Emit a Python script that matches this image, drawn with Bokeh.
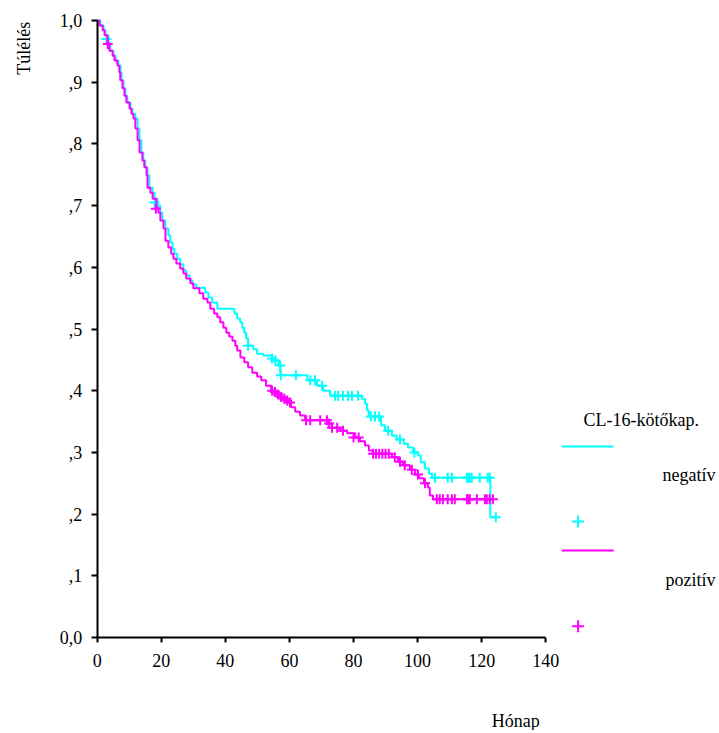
import math
from bokeh.plotting import figure
from bokeh.models import FixedTicker, Label, Range1d
from bokeh.embed import file_html
from bokeh.resources import INLINE

# ---- data ----
neg_t = [0, 1.0, 2.0, 2.6, 3.5, 4.1, 5.1, 5.7, 6.6, 7.3, 7.6, 8.2, 8.8, 9.4, 10.4, 11.0, 11.9, 12.6, 13.2, 13.8,
         14.4, 15.0, 15.7, 16.3, 17.3, 17.9, 18.8, 19.7, 20.3, 21.3, 22.2, 22.8, 23.5, 24.1, 25.0, 25.9, 26.9, 27.8,
         28.8, 29.7, 30.9, 33.7, 34.7, 35.9, 37.5, 42.8, 43.7, 44.6, 45.3, 45.9, 46.5, 47.1, 48.7, 49.9, 51.8, 54.6,
         56.6, 57.2, 65.6, 68.6, 70.5, 72.7, 82.6, 83.6, 84.2, 84.8, 88.6, 89.8, 92.0, 93.5, 95.7, 97.0, 98.6, 100.1,
         101.0, 102.3, 103.5, 104.5, 122.7, 124.4]
neg_s = [1.0, .992, .984, .976, .964, .951, .943, .935, .927, .916, .903, .890, .878, .867, .857, .849, .841, .825,
         .806, .786, .773, .762, .749, .729, .721, .711, .700, .689, .676, .663, .652, .640, .630, .622, .614, .605,
         .595, .587, .579, .572, .567, .559, .551, .543, .533, .525, .517, .511, .502, .494, .485, .473, .467, .460,
         .457, .449, .441, .425, .417, .408, .400, .392, .387, .379, .368, .358, .344, .335, .327, .321, .314, .308,
         .300, .295, .284, .274, .266, .259, .195, .195]
neg_cens_t = [2.9, 17.9, 47.1, 54.6, 55.6, 57.1, 57.3, 62.0, 66.5, 68.0, 70.2, 74.2, 75.2, 76.7, 78.3, 79.5, 81.4,
              85.4, 86.7, 88.0, 90.8, 94.5, 99.0, 105.4, 109.4, 110.7, 115.4, 115.7, 116.3, 116.9, 119.4, 121.9,
              122.5, 124.4]
neg_cens_s = [.970, .705, .473, .452, .449, .441, .425, .425, .417, .417, .408, .392, .392, .392, .392, .392, .392,
              .358, .358, .358, .335, .321, .300, .259, .259, .259, .259, .259, .259, .259, .259, .259, .259, .195]

pos_t = [0, 0.7, 1.7, 2.3, 3.2, 3.8, 4.8, 5.4, 6.3, 6.9, 7.2, 7.9, 8.5, 9.1, 10.1, 10.7, 11.3, 11.9, 12.6, 13.2,
         14.1, 14.7, 15.4, 15.7, 16.6, 17.3, 18.5, 19.1, 19.7, 20.7, 21.3, 22.2, 23.1, 23.8, 24.7, 25.9, 26.9, 27.8,
         29.1, 30.0, 31.9, 33.1, 34.4, 35.3, 36.5, 37.5, 38.4, 39.4, 40.3, 41.2, 42.2, 43.1, 43.7, 44.7, 45.9, 47.1,
         48.4, 49.9, 51.2, 52.7, 54.3, 55.9, 57.4, 59.0, 60.5, 61.8, 63.3, 64.9, 72.1, 73.3, 75.8, 78.0, 80.5, 82.0,
         83.6, 84.8, 86.1, 92.0, 93.9, 95.4, 97.6, 99.2, 100.4, 102.0, 103.2, 103.8, 104.8, 123.5]
pos_s = [1.0, .992, .984, .976, .963, .951, .943, .935, .927, .916, .903, .890, .878, .867, .857, .849, .841, .825,
         .806, .786, .773, .762, .749, .729, .721, .711, .697, .689, .676, .663, .643, .632, .622, .614, .606, .598,
         .590, .582, .574, .566, .558, .549, .543, .533, .525, .519, .511, .502, .494, .488, .481, .473, .465, .454,
         .446, .438, .429, .423, .417, .408, .400, .394, .387, .381, .373, .366, .360, .352, .347, .340, .335, .331,
         .324, .318, .311, .303, .298, .292, .285, .279, .272, .264, .258, .250, .243, .230, .224, .224]
pos_cens_t = [3.3, 18.3, 54.6, 55.5, 56.5, 57.4, 58.4, 59.3, 60.2, 65.2, 66.5, 69.6, 71.7, 72.4, 73.3, 74.9, 76.7,
              80.0, 81.6, 86.1, 87.0, 88.0, 89.0, 90.0, 91.0, 92.9, 94.5, 96.0, 98.2, 100.1, 102.3, 106.0, 106.9,
              107.9, 109.4, 110.7, 111.6, 115.4, 115.7, 116.3, 118.5, 121.0, 121.6, 122.5, 123.5]
pos_cens_s = [.962, .695, .400, .398, .394, .390, .387, .384, .381, .352, .352, .352, .352, .347, .340, .340, .335,
              .324, .324, .298, .298, .298, .298, .298, .298, .292, .285, .279, .272, .264, .250, .224, .224,
              .224, .224, .224, .224, .224, .224, .224, .224, .224, .224, .224, .224]

x_ticks = [0, 20, 40, 60, 80, 100, 120, 140]
y_ticks = [0.0, 0.1, 0.2, 0.3, 0.4, 0.5, 0.6, 0.7, 0.8, 0.9, 1.0]
y_tick_labels = ["0,0", ",1", ",2", ",3", ",4", ",5", ",6", ",7", ",8", ",9", "1,0"]

x_title = "Hónap"
y_title = "Túlélés"
legend_title = "CL-16-kötőkap."
group_names = ["negatív", "pozitív"]
CYAN = "#00FFFF"
MAGENTA = "#FF00FF"
FONT = "Liberation Serif"
FS = "18px"

# frame covers the whole canvas; axes are pinned at 0 with fixed_location
W, H = 716, 730
p = figure(width=W, height=H, min_border=0, min_border_left=0, min_border_right=0,
           min_border_top=0, min_border_bottom=0,
           x_range=Range1d(-30.18, 193.29), y_range=Range1d(-0.1507, 1.0324),
           output_backend="svg", toolbar_location=None)
p.outline_line_color = None
p.grid.grid_line_color = None
p.background_fill_color = "white"
p.border_fill_color = "white"

for ax in (p.xaxis[0], p.yaxis[0]):
    ax.fixed_location = 0
    ax.axis_line_width = 2
    ax.axis_line_color = "black"
    ax.major_tick_line_width = 2
    ax.major_tick_line_color = "black"
    ax.major_tick_in = 0
    ax.minor_tick_line_color = None
    ax.major_label_text_font = FONT
    ax.major_label_text_font_size = FS
    ax.major_label_text_color = "black"

p.xaxis.bounds = (0, 140)
p.xaxis.ticker = FixedTicker(ticks=x_ticks)
p.xaxis.major_tick_out = 5
p.xaxis.major_label_standoff = 11
p.yaxis.bounds = (0, 1)
p.yaxis.ticker = FixedTicker(ticks=y_ticks)
p.yaxis.major_label_overrides = {t: l for t, l in zip(y_ticks, y_tick_labels)}
p.yaxis.major_tick_out = 6
p.yaxis.major_label_standoff = 9

# curves
p.step(neg_t, neg_s, mode="after", line_color=CYAN, line_width=2)
p.scatter(neg_cens_t, neg_cens_s, marker="cross", size=10, line_color=CYAN, line_width=2)
p.step(pos_t, pos_s, mode="after", line_color=MAGENTA, line_width=2)
p.scatter(pos_cens_t, pos_cens_s, marker="cross", size=10, line_color=MAGENTA, line_width=2)

# axis titles
p.add_layout(Label(x=-23.0, y=0.955, text=y_title, angle=math.pi / 2, text_align="center",
                   text_baseline="middle", text_font=FONT, text_font_size=FS, text_color="black"))
p.add_layout(Label(x=130.6, y=-0.1345, text=x_title, text_align="center", text_baseline="middle",
                   text_font=FONT, text_font_size=FS, text_color="black"))

# custom legend (layout positions)
p.add_layout(Label(x=151.8, y=0.353, text=legend_title, text_align="left", text_baseline="middle",
                   text_font=FONT, text_font_size=FS, text_color="black"))
legend_rows = [(group_names[0], CYAN, 0.3096, 0.2626, 0.188),
               (group_names[1], MAGENTA, 0.141, 0.0935, 0.0183)]
for name, col, yl, yt, ym in legend_rows:
    p.line([145.0, 161.2], [yl, yl], line_color=col, line_width=2)
    p.add_layout(Label(x=193.0, y=yt, text=name, text_align="right", text_baseline="middle",
                       text_font=FONT, text_font_size=FS, text_color="black"))
    p.scatter([150.1], [ym], marker="cross", size=12, line_color=col, line_width=2)

open("out.html", "w").write(file_html(p, INLINE))
